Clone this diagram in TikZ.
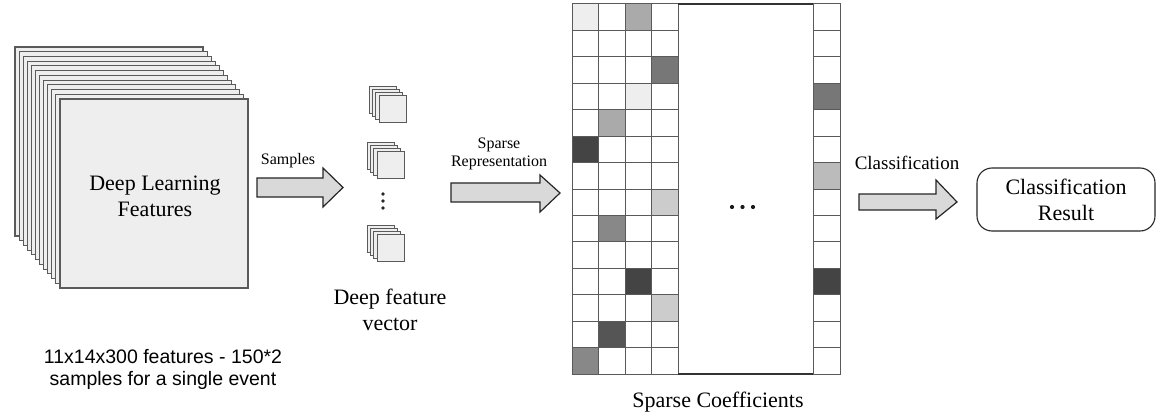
\documentclass[tikz,border=0pt]{standalone}
\usepackage{fontspec}
\setmainfont{Liberation Serif}
\setsansfont{Liberation Sans}
\definecolor{cA}{HTML}{EEEEEE}
\definecolor{cB}{HTML}{AAAAAA}
\definecolor{cC}{HTML}{777777}
\definecolor{cD}{HTML}{444444}
\definecolor{cE}{HTML}{BBBBBB}
\definecolor{cF}{HTML}{CCCCCC}
\definecolor{cG}{HTML}{888888}
\definecolor{cH}{HTML}{555555}
\definecolor{edge}{HTML}{5A5A5A}
\definecolor{arrowfill}{HTML}{D9D9D9}
\begin{document}
\begin{tikzpicture}[x=1pt,y=-1pt,
  layer/.style={draw=edge,line width=1.1pt,fill=cA},
  slayer/.style={draw=edge,line width=0.9pt,fill=cA},
  cell/.style={draw=edge,line width=1pt,fill=white},
  blockarrow/.style={draw=black!85,line width=1.2pt,fill=arrowfill,line join=miter},
  bigtext/.style={font=\fontsize{22}{26}\selectfont,align=center,inner sep=0pt},
  smalltext/.style={font=\fontsize{16}{18}\selectfont,align=center,inner sep=0pt},
  sanstext/.style={font=\sffamily\fontsize{19.5}{22}\selectfont,align=center,inner sep=0pt},
  resultbox/.style={draw=black!85,line width=1.1pt,rounded corners=15pt,minimum width=178pt,minimum height=63pt,align=center,font=\fontsize{22}{26}\selectfont,inner sep=0pt}
]
\useasboundingbox (0,0) rectangle (1157,417);
\fill[white] (0,0) rectangle (1157,417);

% big stack of feature maps
\foreach \i in {0,...,11} {
  \pgfmathsetmacro\xx{15+\i*45/11}
  \pgfmathsetmacro\yy{47+\i*52/11}
  \draw[layer] (\xx,\yy) rectangle ++(188,189);
}
\node[bigtext] (dlf) at (155,196) {Deep Learning\\Features};
\node[sanstext] (note) at (163,369) {11x14x300 features - 150*2\\samples for a single event};

% samples arrow
\draw[blockarrow] (257,178) -- (323,178) -- (323,168) -- (343,187.5) -- (323,207) -- (323,197) -- (257,197) -- cycle;
\node[smalltext] (samples) at (288,161) {Samples};

% small stacks
\foreach \sx/\sy in {379/95,377/151,377/234} {
  \foreach \j in {0,...,3} {
    \pgfmathsetmacro\xx{\sx-10+\j*10/3}
    \pgfmathsetmacro\yy{\sy-9+\j*3}
    \draw[slayer] (\xx,\yy) rectangle ++(27,27);
  }
}
\foreach \dy in {194,201,208} \fill[black!85] (383,\dy) circle (1.8);
\node[bigtext] (dfv) at (390,310) {Deep feature\\vector};

% sparse representation arrow
\draw[blockarrow] (451,183) -- (540,183) -- (540,175) -- (560,193) -- (540,212) -- (540,202) -- (451,202) -- cycle;
\node[smalltext] (sparse) at (499,154) {Sparse\\Representation};

% coefficient grid
\foreach \r in {0,...,13} {
  \foreach \c in {0,...,3} {
    \draw[cell] ({572+\c*26.5},{4+\r*26.43}) rectangle ++(26.5,26.43);
  }
  \draw[cell] (813,{4+\r*26.43}) rectangle ++(27,26.43);
}
\foreach \c/\r/\col in {0/0/cA,2/0/cB,3/2/cC,2/3/cA,1/4/cB,0/5/cD,3/7/cF,1/8/cG,2/10/cD,3/11/cF,1/12/cH,0/13/cG} {
  \draw[cell,fill=\col] ({572+\c*26.5},{4+\r*26.43}) rectangle ++(26.5,26.43);
}
\foreach \r/\col in {3/cC,6/cE,10/cD} {
  \draw[cell,fill=\col] (813,{4+\r*26.43}) rectangle ++(27,26.43);
}
\draw[edge,line width=1pt] (678,4) -- (678,374) (813,4) -- (813,374);
\draw[black!80,line width=1.3pt] (678,4) -- (813,4) (678,374) -- (813,374);
\coordinate (dots) at (742.5,207);
\foreach \dx in {-10.5,0,10.5} \fill[black!90] ([xshift=\dx pt]dots) circle (2.1);
\node[bigtext] (sc) at (718,402) {Sparse Coefficients};

% classification arrow
\draw[blockarrow] (859,194) -- (936,194) -- (936,180) -- (957,202) -- (936,219) -- (936,210) -- (859,210) -- cycle;
\node[font=\fontsize{19}{22}\selectfont,inner sep=0pt] (cls) at (907,163) {Classification};

% result box
\node[resultbox] (res) at (1066,199.5) {Classification\\Result};
\end{tikzpicture}
\end{document}
